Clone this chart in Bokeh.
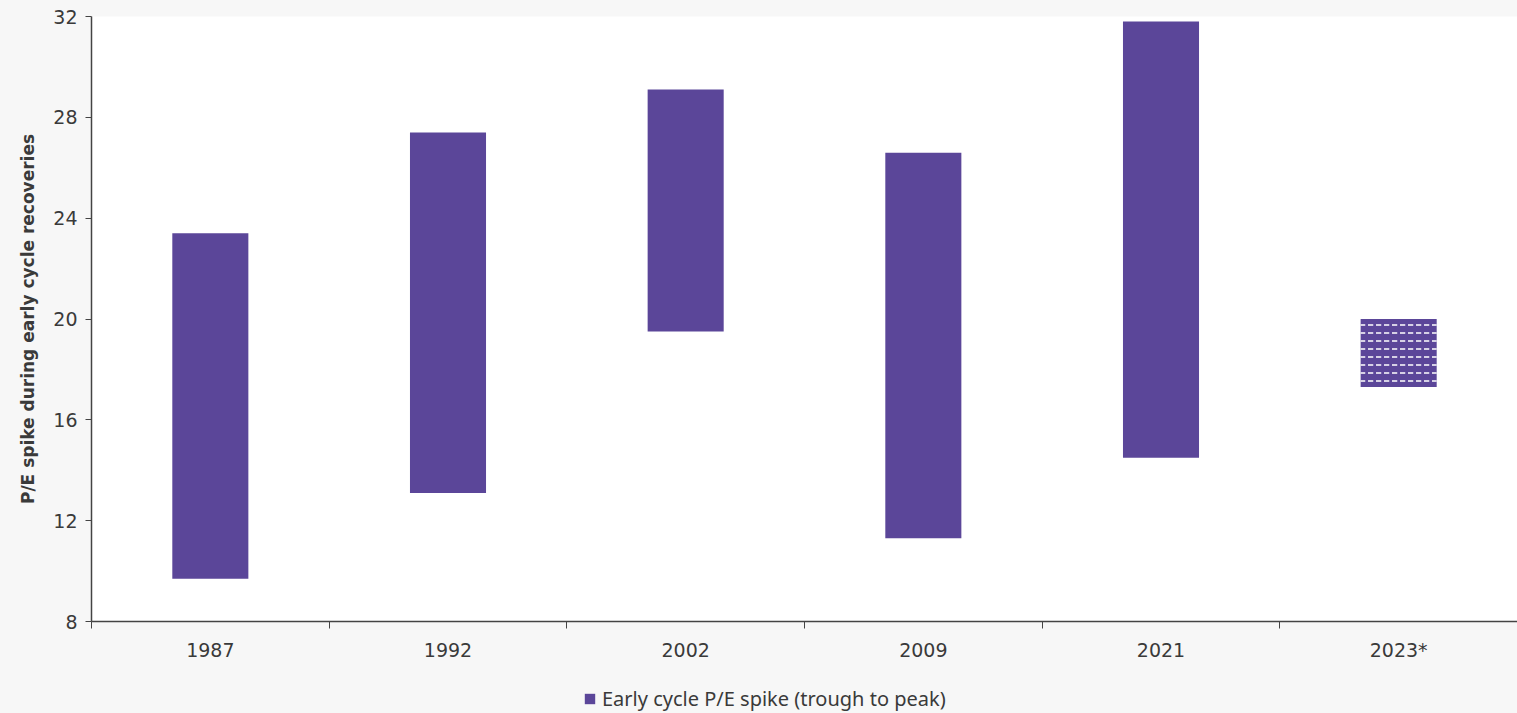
from bokeh.plotting import figure
from bokeh.layouts import column
from bokeh.models import FixedTicker, Legend, LegendItem, ColumnDataSource, Range1d
from bokeh.embed import file_html
from bokeh.resources import INLINE

categories = ["1987", "1992", "2002", "2009", "2021", "2023*"]
trough = [9.7, 13.1, 19.5, 11.3, 14.5, 17.3]
peak = [23.4, 27.4, 29.1, 26.6, 31.8, 20.0]
y_ticks = [8, 12, 16, 20, 24, 28, 32]
projected = [False, False, False, False, False, True]
series_name = "Early cycle P/E spike (trough to peak)"

BAR = "#5B4699"
BG = "#F7F7F7"
TXT = "#3A3A3A"

xs = [i + 0.5 for i in range(len(categories))]
hist = ColumnDataSource(dict(
    x=[x for x, p in zip(xs, projected) if not p],
    top=[t for t, p in zip(peak, projected) if not p],
    bottom=[b for b, p in zip(trough, projected) if not p],
))
proj = ColumnDataSource(dict(
    x=[x for x, p in zip(xs, projected) if p],
    top=[t for t, p in zip(peak, projected) if p],
    bottom=[b for b, p in zip(trough, projected) if p],
))

p = figure(width=1517, height=665, output_backend="svg", toolbar_location=None,
           x_range=Range1d(0, len(categories)), y_range=Range1d(8, 32),
           min_border_left=91, min_border_right=0, min_border_top=16,
           min_border_bottom=44)
p.background_fill_color = "white"
p.border_fill_color = BG
p.outline_line_color = None
p.grid.visible = False

p.vbar(x="x", top="top", bottom="bottom", width=0.32, source=hist,
       fill_color=BAR, line_color=None)
p.vbar(x="x", top="top", bottom="bottom", width=0.32, source=proj,
       fill_color=BAR, line_color=None, hatch_pattern="horizontal_dash",
       hatch_color="white", hatch_scale=8, hatch_weight=1.5)

# x axis: labels at centers, tick marks at category boundaries
p.xaxis.ticker = FixedTicker(ticks=xs, minor_ticks=list(range(len(categories) + 1)))
p.xaxis.major_label_overrides = {x: c for x, c in zip(xs, categories)}
p.xaxis.major_tick_out = 0
p.xaxis.major_tick_in = 0
p.xaxis.minor_tick_out = 7
p.xaxis.minor_tick_in = 0
p.xaxis.minor_tick_line_color = "#444444"
p.xaxis.major_label_standoff = 10
p.xaxis.axis_line_color = "#444444"
p.xaxis.axis_line_width = 1.5

p.yaxis.ticker = FixedTicker(ticks=y_ticks)
p.yaxis.minor_tick_line_color = None
p.yaxis.major_tick_out = 6
p.yaxis.major_tick_in = 0
p.yaxis.major_tick_line_color = "#444444"
p.yaxis.axis_line_color = "#444444"
p.yaxis.axis_line_width = 1.5
p.yaxis.major_label_standoff = 8
p.yaxis.axis_label = "P/E spike during early cycle recoveries"
p.yaxis.axis_label_text_font_style = "bold"
p.yaxis.axis_label_text_font_size = "17px"
p.yaxis.axis_label_text_font = "DejaVu Sans"
p.yaxis.axis_label_text_color = TXT
p.yaxis.axis_label_standoff = 12

for ax in (p.xaxis, p.yaxis):
    ax.major_label_text_font = "DejaVu Sans"
    ax.major_label_text_font_size = "19px"
    ax.major_label_text_color = TXT

# legend strip below the chart (its key renderer uses the same data, kept far out of view)
leg = figure(width=1517, height=48, output_backend="svg", toolbar_location=None,
             x_range=Range1d(1000, 1001), y_range=Range1d(1000, 1001),
             x_axis_location=None, y_axis_location=None,
             min_border_left=91, min_border_right=0, min_border_top=0,
             min_border_bottom=0)
leg.background_fill_color = BG
leg.border_fill_color = BG
leg.outline_line_color = None
leg.grid.visible = False
key = leg.vbar(x="x", top="top", bottom="bottom", width=0.32, source=hist,
               fill_color=BAR, line_color=None)
legend = Legend(items=[LegendItem(label=series_name, renderers=[key])],
                orientation="horizontal", location=(492, 1),
                background_fill_alpha=0, border_line_color=None,
                label_text_font="Noto Sans", label_text_font_size="20px",
                label_text_color=TXT, glyph_width=13, glyph_height=13,
                label_standoff=6, padding=0, margin=0)
leg.add_layout(legend, "center")

layout = column(p, leg, spacing=0, styles={"background-color": BG})
open("out.html", "w").write(file_html(layout, INLINE))
